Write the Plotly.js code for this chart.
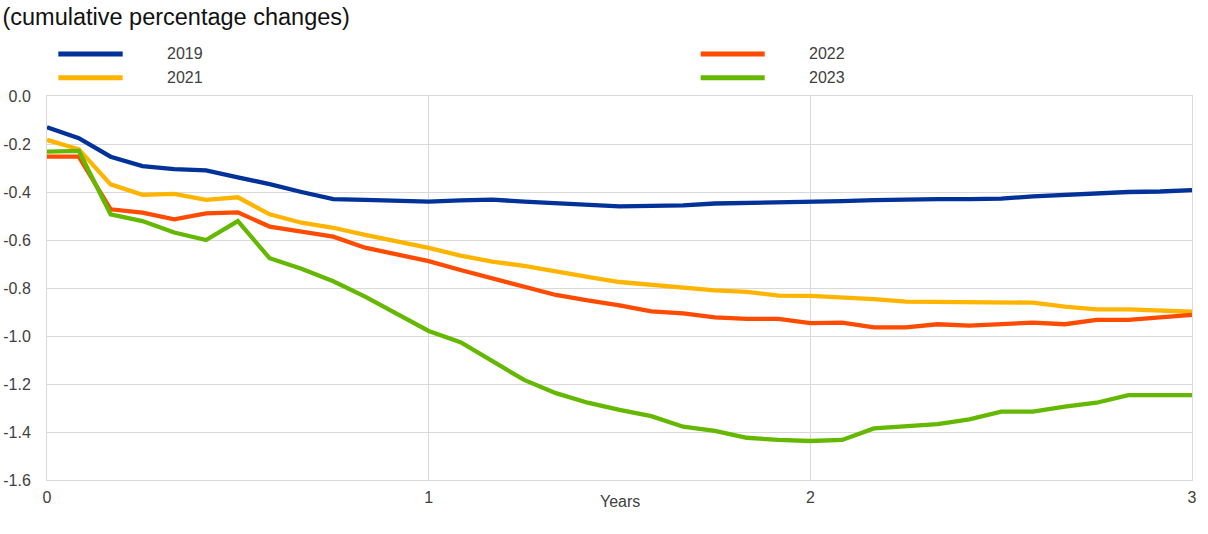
<!DOCTYPE html>
<html>
<head>
<meta charset="utf-8">
<script src="https://cdn.plot.ly/plotly-3.0.1.min.js"></script>
<style>html,body{margin:0;padding:0;background:#fff;}#chart{width:1208px;height:534px;}</style>
</head>
<body>
<div id="chart"></div>
<script>
// Horizon in months (converted to years for the x axis)
const months = [0,1,2,3,4,5,6,7,8,9,10,11,12,13,14,15,16,17,18,19,20,21,22,23,24,25,26,27,28,29,30,31,32,33,34,35,36];

const seriesNames = ["2019", "2021", "2022", "2023"];
const seriesColors = ["#003299", "#FFB400", "#FF4B00", "#65B800"];

const y2019 = [-0.130,-0.176,-0.253,-0.292,-0.305,-0.310,-0.339,-0.367,-0.400,-0.430,-0.433,-0.435,-0.440,
  -0.435,-0.432,-0.440,-0.448,-0.455,-0.460,-0.458,-0.456,-0.448,-0.446,-0.445,-0.442,
  -0.438,-0.434,-0.431,-0.430,-0.430,-0.428,-0.418,-0.412,-0.405,-0.400,-0.398,-0.392];
const y2021 = [-0.183,-0.222,-0.368,-0.412,-0.408,-0.433,-0.422,-0.493,-0.528,-0.549,-0.579,-0.604,-0.633,
  -0.665,-0.690,-0.708,-0.733,-0.754,-0.775,-0.786,-0.801,-0.810,-0.816,-0.832,-0.833,
  -0.839,-0.846,-0.857,-0.857,-0.861,-0.861,-0.861,-0.878,-0.889,-0.889,-0.894,-0.899];
const y2022 = [-0.253,-0.253,-0.472,-0.486,-0.514,-0.489,-0.485,-0.544,-0.565,-0.586,-0.632,-0.658,-0.688,
  -0.725,-0.760,-0.792,-0.829,-0.852,-0.872,-0.897,-0.906,-0.922,-0.929,-0.929,-0.946,
  -0.944,-0.964,-0.964,-0.951,-0.957,-0.951,-0.944,-0.951,-0.933,-0.933,-0.922,-0.912];
const y2023 = [-0.232,-0.229,-0.493,-0.521,-0.569,-0.600,-0.521,-0.676,-0.720,-0.772,-0.836,-0.905,-0.979,
  -1.026,-1.104,-1.183,-1.238,-1.278,-1.308,-1.334,-1.378,-1.395,-1.424,-1.433,-1.4375,
  -1.433,-1.385,-1.378,-1.367,-1.347,-1.315,-1.315,-1.294,-1.278,-1.246,-1.246,-1.246];

const yTickVals = [0,-0.2,-0.4,-0.6,-0.8,-1.0,-1.2,-1.4,-1.6];
const yTickText = ["0.0","-0.2","-0.4","-0.6","-0.8","-1.0","-1.2","-1.4","-1.6"];
const xTickVals = [0,1,2,3];
const xTickText = ["0","1","2","3"];

const titleText = "(cumulative percentage changes)";
const xTitleText = "Years";

const years = months.map(m => m / 12);
const allY = [y2019, y2021, y2022, y2023];

const traces = allY.map((ys, i) => ({
  type: "scatter",
  mode: "lines",
  x: years,
  y: ys,
  name: seriesNames[i],
  line: {color: seriesColors[i], width: 4.3},
  showlegend: false,
  hoverinfo: "x+y+name"
}));

// custom legend: 2 columns, 2 rows (2019 / 2021 left, 2022 / 2023 right)
const legendPos = [
  {x0: 0.0099, x1: 0.0661, tx: 0.1031, y: 1.1094},
  {x0: 0.0099, x1: 0.0661, tx: 0.1031, y: 1.0477},
  {x0: 0.5709, x1: 0.6268, tx: 0.6635, y: 1.1094},
  {x0: 0.5709, x1: 0.6268, tx: 0.6635, y: 1.0477}
];
const shapes = legendPos.map((p, i) => ({
  type: "line", xref: "paper", yref: "paper",
  x0: p.x0, x1: p.x1, y0: p.y, y1: p.y,
  line: {color: seriesColors[i], width: 5}
}));
const annotations = legendPos.map((p, i) => ({
  xref: "paper", yref: "paper", x: p.tx, y: p.y,
  xanchor: "left", yanchor: "middle", showarrow: false,
  text: seriesNames[i],
  font: {family: "Liberation Sans, Arial, sans-serif", size: 16, color: "#404040"}
}));
annotations.push({
  xref: "paper", yref: "paper", x: 0.5, y: -0.055,
  xanchor: "center", yanchor: "middle", showarrow: false,
  text: xTitleText,
  font: {family: "Liberation Sans, Arial, sans-serif", size: 16, color: "#404040"}
});

const layout = {
  width: 1208, height: 534,
  margin: {l: 47, r: 16, t: 96, b: 54},
  paper_bgcolor: "#ffffff",
  plot_bgcolor: "#ffffff",
  font: {family: "Liberation Sans, Arial, sans-serif", size: 16, color: "#404040"},
  title: {
    text: titleText,
    x: 0.002, xref: "container", xanchor: "left",
    y: 0.968, yref: "container", yanchor: "middle",
    font: {family: "Liberation Sans, Arial, sans-serif", size: 23.5, color: "#111111"}
  },
  xaxis: {
    range: [0, 3],
    tickvals: xTickVals, ticktext: xTickText,
    showgrid: true, gridcolor: "#d9d9d9", gridwidth: 1,
    zeroline: false,
    showline: true, linecolor: "#d9d9d9", linewidth: 1, mirror: true,
    ticks: "", ticklabelstandoff: 3, tickfont: {size: 16, color: "#404040"}
  },
  yaxis: {
    range: [-1.6, 0],
    tickvals: yTickVals, ticktext: yTickText,
    showgrid: true, gridcolor: "#d9d9d9", gridwidth: 1,
    zeroline: false,
    showline: true, linecolor: "#d9d9d9", linewidth: 1, mirror: true,
    ticks: "", ticklabelstandoff: 12,
    tickfont: {size: 16, color: "#404040"}
  },
  shapes: shapes,
  annotations: annotations,
  showlegend: false
};

Plotly.newPlot("chart", traces, layout, {displayModeBar: false, staticPlot: false});
</script>
</body>
</html>
